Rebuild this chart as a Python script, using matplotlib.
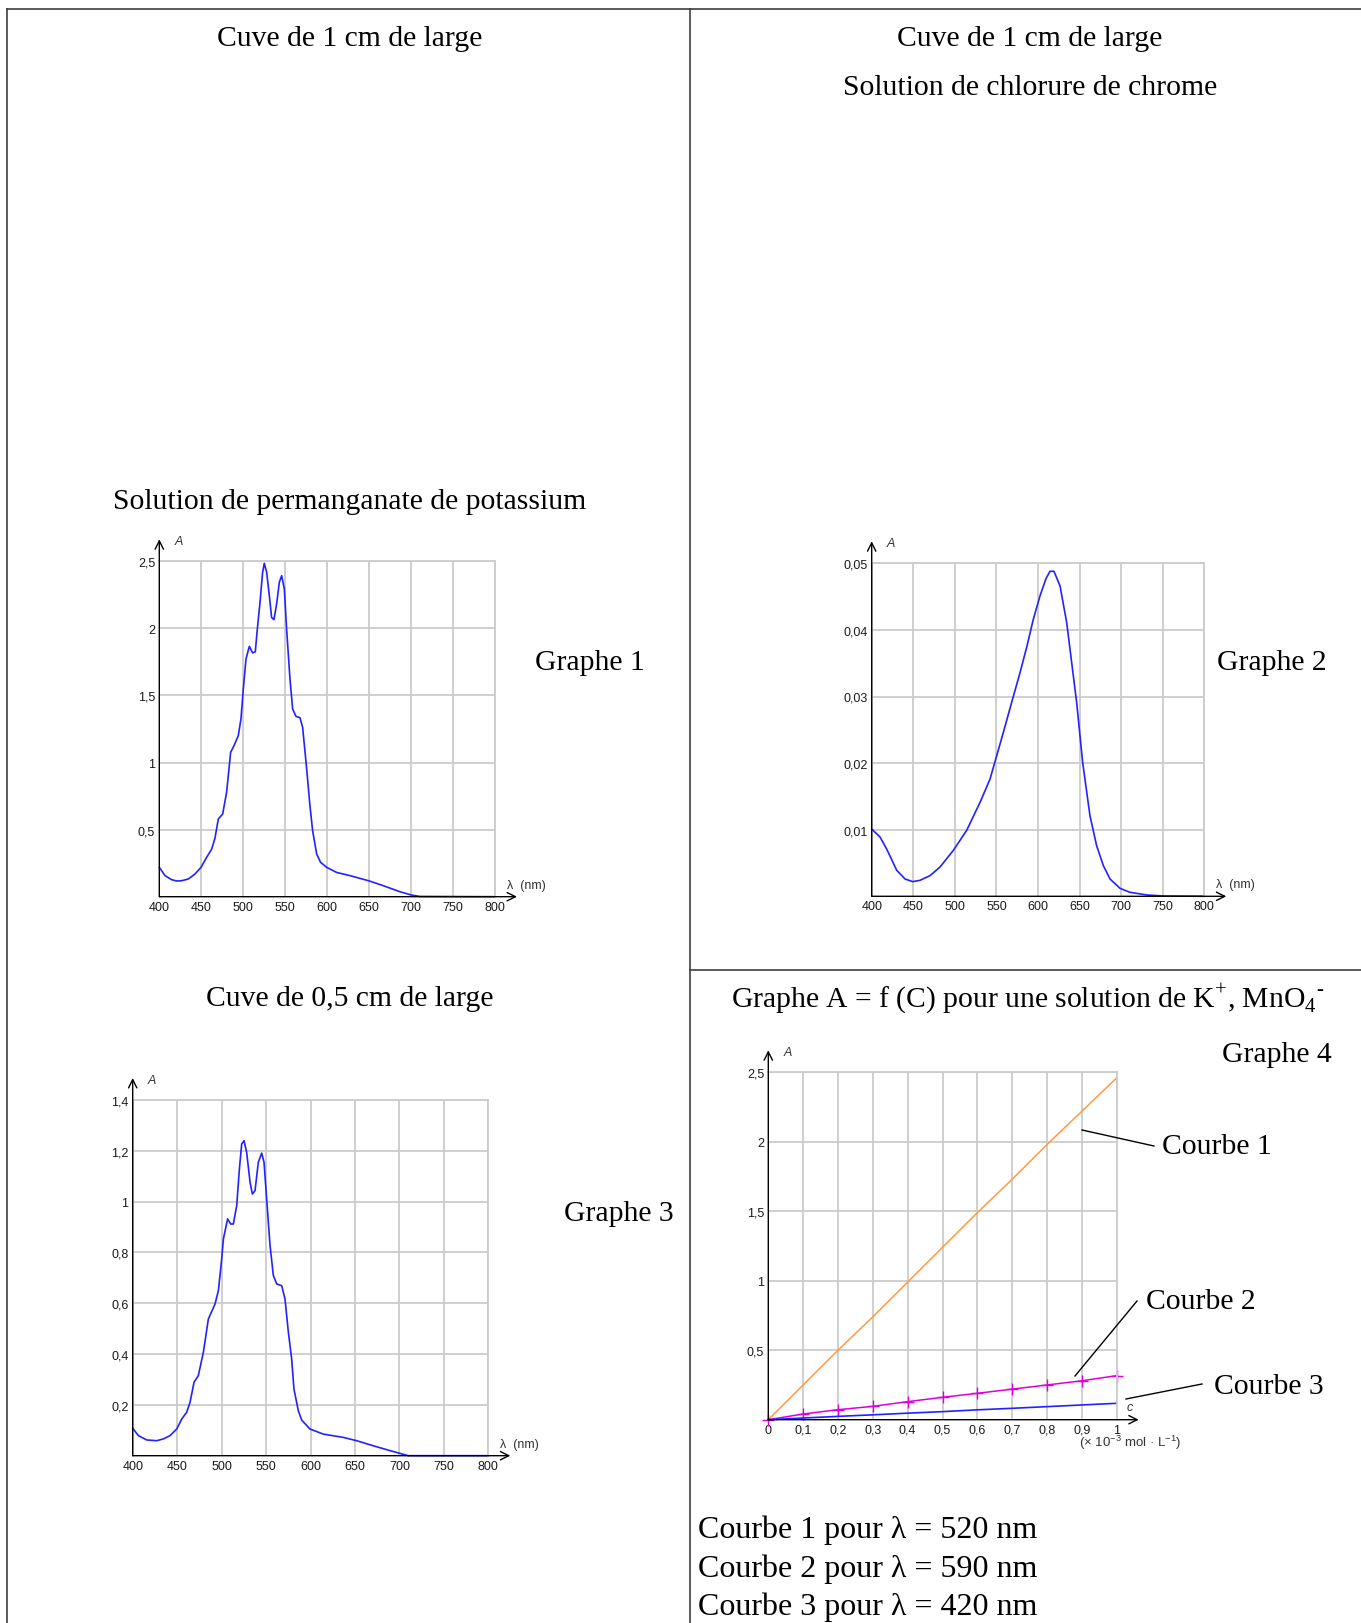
import matplotlib
matplotlib.use("Agg")
from matplotlib import pyplot as plt
from matplotlib.lines import Line2D

plt.rcParams["mathtext.fontset"] = "custom"
plt.rcParams["mathtext.rm"] = "Liberation Serif"
plt.rcParams["mathtext.sf"] = "Liberation Sans"

W, H = 1361, 1624
SERIF = "Liberation Serif"
SANS = "Liberation Sans"

# Graphe 1 : permanganate de potassium, cuve 1 cm
g1_lambda = [400, 406.8, 414.7, 420.7, 426.6, 434.6, 442.5, 449.7, 456.4, 462.4, 466.3,
             470.3, 475.5, 480.2, 485, 489, 494.1, 497.3, 500.1, 503.3, 507.3, 511.2,
             514.4, 516.8, 520, 523.1, 525.1, 527.9, 531.1, 533.8, 536.6, 539.8, 543,
             545.8, 549, 551.7, 555.7, 558.9, 562.9, 567.6, 570.8, 575.6, 579.5, 582.7,
             587.5, 592.2, 599.4, 611.3, 627.2, 649.4, 666.9, 686.8, 700.7, 710.6, 800]
g1_abs = [0.219, 0.157, 0.127, 0.117, 0.119, 0.132, 0.169, 0.219, 0.293, 0.355, 0.435,
          0.579, 0.616, 0.778, 1.076, 1.126, 1.2, 1.325, 1.548, 1.772, 1.866, 1.817,
          1.826, 1.995, 2.194, 2.418, 2.485, 2.418, 2.244, 2.082, 2.065, 2.182, 2.343,
          2.393, 2.294, 1.995, 1.623, 1.399, 1.344, 1.334, 1.262, 0.952, 0.678, 0.492,
          0.318, 0.256, 0.219, 0.181, 0.157, 0.119, 0.082, 0.037, 0.012, 0.002, 0.0]

# Graphe 2 : chlorure de chrome, cuve 1 cm
g2_lambda = [400, 410, 418, 430.1, 440.1, 449.3, 458.1, 470.1, 482.2, 498.2, 514.2,
             530.3, 542.3, 550.3, 558.3, 568.3, 578.4, 586.4, 594.4, 602.4, 609.6,
             614.4, 619.2, 626.5, 634.5, 640.5, 646.5, 653.7, 662.5, 670.5, 678.6,
             686.6, 698.6, 710.6, 730.7, 750.7, 800]
g2_abs = [0.0101, 0.0089, 0.0071, 0.0039, 0.0026, 0.0022, 0.0024, 0.0031, 0.0044,
          0.0069, 0.0099, 0.0141, 0.0176, 0.0211, 0.0246, 0.0291, 0.0336, 0.0374,
          0.0416, 0.0451, 0.0477, 0.0488, 0.0488, 0.0466, 0.0411, 0.0351, 0.0291,
          0.0201, 0.0121, 0.0076, 0.0046, 0.0026, 0.0012, 0.0006, 0.0002, 0.00005, 0.0]

# Graphe 3 : permanganate de potassium, cuve 0,5 cm
g3_lambda = [400, 406.4, 415.7, 427, 434.5, 442, 449.5, 455.1, 460.7, 464.5, 469,
             473.8, 479.5, 485.1, 492.6, 496.4, 500.1, 502, 506.8, 510.2, 513.2, 517,
             520, 522.6, 525.2, 528.2, 532, 534.6, 537.6, 541.3, 545.1, 547.7, 550.7,
             554.5, 558.2, 562, 567.6, 571.3, 575.1, 578.8, 581.4, 586.3, 590.1, 599.4,
             614.4, 636.9, 651.9, 670.7, 689.4, 700.7, 710, 800]
g3_abs = [0.108, 0.079, 0.062, 0.059, 0.066, 0.079, 0.105, 0.144, 0.171, 0.21, 0.289,
          0.315, 0.407, 0.538, 0.597, 0.65, 0.774, 0.853, 0.932, 0.912, 0.912, 0.984,
          1.128, 1.227, 1.24, 1.194, 1.076, 1.03, 1.043, 1.155, 1.191, 1.155, 1.01,
          0.827, 0.709, 0.676, 0.669, 0.617, 0.486, 0.381, 0.262, 0.177, 0.14, 0.105,
          0.085, 0.072, 0.059, 0.039, 0.02, 0.009, 0.0, 0.0]

# Graphe 4 : A = f(C)
conc = [0, 0.1, 0.2, 0.3, 0.4, 0.5, 0.6, 0.7, 0.8, 0.9, 1.0]
courbe1 = [0, 0.25, 0.50, 0.74, 0.99, 1.24, 1.49, 1.73, 1.98, 2.22, 2.46]
courbe2 = [0, 0.041, 0.072, 0.096, 0.13, 0.161, 0.19, 0.22, 0.25, 0.28, 0.317]
courbe3 = [0, 0.012, 0.024, 0.035, 0.047, 0.058, 0.071, 0.082, 0.094, 0.106, 0.118]

lambda_ticks = [400, 450, 500, 550, 600, 650, 700, 750, 800]
lambda_labels = ["400", "450", "500", "550", "600", "650", "700", "750", "800"]
g1_yticks = [0.5, 1, 1.5, 2, 2.5]
g1_ylabels = ["0,5", "1", "1,5", "2", "2,5"]
g2_yticks = [0.01, 0.02, 0.03, 0.04, 0.05]
g2_ylabels = ["0,01", "0,02", "0,03", "0,04", "0,05"]
g3_yticks = [0.2, 0.4, 0.6, 0.8, 1.0, 1.2, 1.4]
g3_ylabels = ["0,2", "0,4", "0,6", "0,8", "1", "1,2", "1,4"]
g4_xlabels = ["0", "0,1", "0,2", "0,3", "0,4", "0,5", "0,6", "0,7", "0,8", "0,9", "1"]

fig = plt.figure(figsize=(W / 100, H / 100), dpi=100)


def fx(x):
    return x / W


def fy(y):
    return 1 - y / H


def line(x_a, y_a, x_b, y_b, color="#404040", lw=1.2):
    fig.add_artist(Line2D([fx(x_a), fx(x_b)], [fy(y_a), fy(y_b)],
                          transform=fig.transFigure, color=color, lw=lw))


def label(x, y, s, size=21.3, ha="center", family=SERIF, **kw):
    fig.text(fx(x), fy(y), s, ha=ha, va="center", fontsize=size, family=family, **kw)


def graph(x0, x1, yb, yt, xlim, ylim, xticks, xlabels, yticks, ylabels, xname):
    ax = fig.add_axes([fx(x0), fy(yb), (x1 - x0) / W, (yb - yt) / H])
    ax.set_xlim(*xlim)
    ax.set_ylim(*ylim)
    ax.set_xticks(xticks)
    ax.set_xticklabels(xlabels)
    ax.set_yticks(yticks)
    ax.set_yticklabels(ylabels)
    ax.grid(True, color="#cccccc", lw=1.3)
    ax.set_axisbelow(True)
    for side in ["top", "right"]:
        ax.spines[side].set_color("#cccccc")
        ax.spines[side].set_linewidth(1.3)
    for side in ["left", "bottom"]:
        ax.spines[side].set_visible(False)
    ax.tick_params(length=0, pad=3, labelsize=9, labelcolor="#1a1a1a")
    for t in ax.get_xticklabels() + ax.get_yticklabels():
        t.set_family(SANS)
    arrow = dict(arrowstyle="->,head_length=0.6,head_width=0.3", lw=1, color="k",
                 shrinkA=0, shrinkB=0)
    ax.annotate("", xy=(x0, H - yt + 22), xytext=(x0, H - yb),
                xycoords="figure pixels", textcoords="figure pixels", arrowprops=arrow)
    ax.annotate("", xy=(x1 + 22, H - yb), xytext=(x0, H - yb),
                xycoords="figure pixels", textcoords="figure pixels", arrowprops=arrow)
    label(x0 + 15, yt - 20, "A", size=9, ha="left", family=SANS, style="italic",
          color="#333333")
    if xname:
        label(x1 + 12, yb - 12, xname, size=9, ha="left", family=SANS, color="#333333")
    return ax


# tableau
line(7, 10, W, 10)
line(7, 10, 7, H)
line(689.5, 10, 689.5, H)
line(689.5, 971, W, 971)

blue = "#2222ff"

ax1 = graph(159.3, 495, 897.7, 562.3, (400, 800), (0, 2.5), lambda_ticks, lambda_labels,
            g1_yticks, g1_ylabels, "λ  (nm)")
ax1.plot(g1_lambda, g1_abs, color=blue, lw=1.2, clip_on=False)

ax2 = graph(871.7, 1204.3, 897.3, 564.3, (400, 800), (0, 0.05), lambda_ticks, lambda_labels,
            g2_yticks, g2_ylabels, "λ  (nm)")
ax2.plot(g2_lambda, g2_abs, color=blue, lw=1.2, clip_on=False)

ax3 = graph(132.7, 488.3, 1456.7, 1101, (400, 800), (0, 1.4), lambda_ticks, lambda_labels,
            g3_yticks, g3_ylabels, "λ  (nm)")
ax3.plot(g3_lambda, g3_abs, color=blue, lw=1.2, clip_on=False)

ax4 = graph(768.3, 1116.7, 1420.7, 1073.3, (0, 1), (0, 2.5), conc, g4_xlabels,
            g1_yticks, g1_ylabels, None)
ax4.plot(conc, courbe1, color="#ff9a40", lw=1.1, clip_on=False)
ax4.plot(conc, courbe2, color="#dd00dd", lw=1.1, marker="+", ms=8, mew=1, clip_on=False)
ax4.plot(conc, courbe3, color=blue, lw=1.2, clip_on=False)
label(1130, 1408, "c", size=9, family=SANS, style="italic", color="#333333")
label(1130, 1443, r"(× 10$^{\mathsf{-3}}$ mol · L$^{\mathsf{-1}}$)", size=9.5, family=SANS,
      color="#333333")

# textes
label(350, 39, "Cuve de 1 cm de large")
label(1030, 39, "Cuve de 1 cm de large")
label(1030, 88, "Solution de chlorure de chrome")
label(350, 502, "Solution de permanganate de potassium")
label(590, 663, "Graphe 1")
label(1272, 663, "Graphe 2")
label(350, 999, "Cuve de 0,5 cm de large")
label(619, 1214, "Graphe 3")
label(1028, 999, r"Graphe A = f (C) pour une solution de K$^{+}$, MnO$_{4}$$^{\text{-}}$")
label(1277, 1055, "Graphe 4")

label(1162, 1147, "Courbe 1", ha="left")
label(1146, 1302, "Courbe 2", ha="left")
label(1214, 1387, "Courbe 3", ha="left")
line(1082, 1131, 1154, 1147, color="k", lw=1)
line(1075, 1377, 1137, 1302, color="k", lw=1)
line(1126, 1400, 1202, 1385, color="k", lw=1)

label(698, 1530, "Courbe 1 pour λ = 520 nm", size=23, ha="left")
label(698, 1569, "Courbe 2 pour λ = 590 nm", size=23, ha="left")
label(698, 1607, "Courbe 3 pour λ = 420 nm", size=23, ha="left")

fig.savefig("out.png", dpi=100)
